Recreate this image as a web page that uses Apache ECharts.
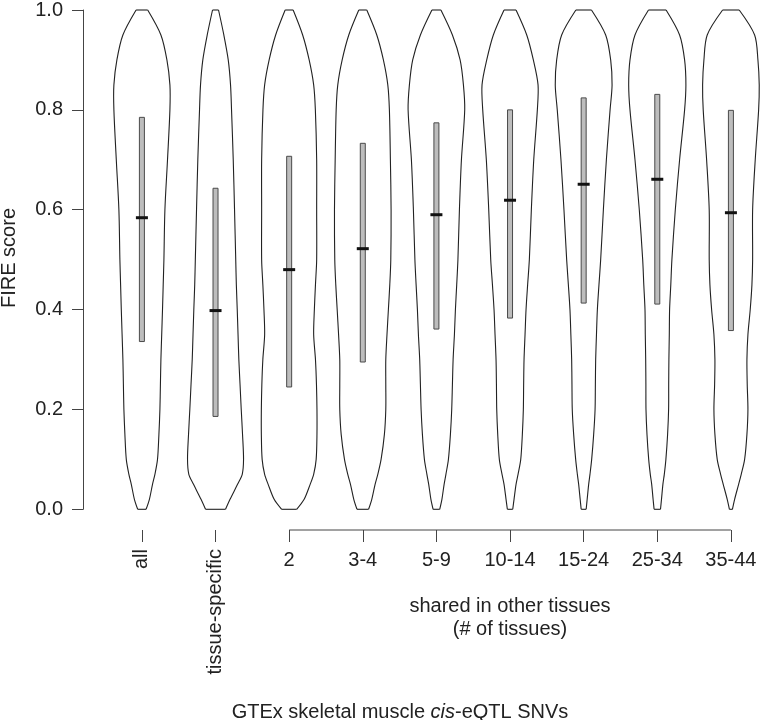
<!DOCTYPE html>
<html><head><meta charset="utf-8">
<script src="https://cdn.jsdelivr.net/npm/echarts@6/dist/echarts.min.js"></script>
<style>html,body{margin:0;padding:0;background:#fff}#c{width:760px;height:720px}</style>
</head><body><div id="c"></div>
<script>
const categories = ['all', 'tissue-specific', '2', '3-4', '5-9', '10-14', '15-24', '25-34', '35-44'];
const positions = [1, 2, 3, 4, 5, 6, 7, 8, 9];
const sharedGroup = [3, 9];
const yTicks = [0, 0.2, 0.4, 0.6, 0.8, 1.0];

// FIRE score levels at which the violin half-widths (relative density) were read
const levels = [0, 0.02, 0.05, 0.07, 0.1, 0.15, 0.2, 0.25, 0.3, 0.35, 0.4, 0.45, 0.5, 0.6, 0.7, 0.8, 0.85, 0.9, 0.95, 1.0];
const dens_all     = [4.2, 7.5, 10.6, 13, 15.6, 17, 18, 18.5, 19, 19.8, 20.6, 21.3, 22, 23, 25.6, 28, 28, 25, 19, 5.8];
const dens_tissue  = [10, 14.5, 22, 26.7, 28, 27, 25.7, 24.5, 23.3, 22.5, 21.7, 20.8, 20.2, 19, 17.7, 16, 15, 12.7, 8.3, 3];
const dens_2       = [7.5, 15, 21, 24.5, 27, 27.8, 27.8, 27.3, 26.3, 24.5, 25.2, 26.3, 27.5, 27.5, 27.5, 26.2, 24.5, 20, 13.5, 4];
const dens_3_4     = [5.8, 9, 12.3, 15, 18.3, 21.6, 23, 23, 23, 24.2, 25.6, 27, 28, 28.3, 27.6, 26.6, 25, 20.6, 14, 4];
const dens_5_9     = [3.3, 5.5, 7.7, 9.5, 12, 14, 15.3, 16, 16.7, 18, 19, 20.3, 21.5, 23, 25, 28.3, 27, 23.7, 16, 4.5];
const dens_10_14   = [2.7, 4, 6, 8, 10.7, 12.3, 13.3, 13.6, 14, 15, 16, 17.6, 19.3, 21.3, 23.7, 27.3, 28, 23.3, 16.7, 6];
const dens_15_24   = [2.5, 3.5, 5, 6.3, 8, 10, 11.4, 11.7, 12, 12.8, 13.7, 15.3, 17, 19.7, 22.7, 26.4, 28.4, 27, 22, 7.8];
const dens_25_34   = [3.2, 4.2, 5.6, 7, 8.6, 10.3, 11.3, 11.4, 11.6, 12, 12.3, 13.5, 14.6, 18, 22.3, 27.3, 28.6, 27.3, 22.3, 8.8];
const dens_35_44   = [1.5, 3.7, 7.7, 10.3, 13.7, 16, 17, 16.3, 16, 17, 19.3, 21, 21.7, 21.7, 24.3, 27.7, 28.3, 27, 23.7, 8.3];
const densities = [dens_all, dens_tissue, dens_2, dens_3_4, dens_5_9, dens_10_14, dens_15_24, dens_25_34, dens_35_44];

// interquartile range and median
const q1     = [0.336, 0.186, 0.245, 0.295, 0.361, 0.383, 0.413, 0.411, 0.358];
const median = [0.584, 0.398, 0.480, 0.522, 0.590, 0.619, 0.651, 0.661, 0.594];
const q3     = [0.785, 0.643, 0.707, 0.733, 0.774, 0.800, 0.824, 0.831, 0.799];

const densityToX = 1 / 73.6;
const FONT = "'Liberation Sans', Arial, Helvetica, sans-serif";
const FS = 20;
const AXIS_COLOR = '#444';
const XMIN = 0.2, XMAX = 9.38;
const AX_OFFSET = 20.7;

const chart = echarts.init(document.getElementById('c'), null, {renderer: 'canvas'});

const violinData = positions.map((p, i) => [p, q1[i], median[i], q3[i], i]);

function renderViolin(params, api) {
  const x = api.value(0);
  const idx = api.value(4);
  const d = densities[idx];
  const right = [], left = [];
  for (let k = 0; k < levels.length; k++) right.push(api.coord([x + d[k] * densityToX, levels[k]]));
  for (let k = levels.length - 1; k >= 0; k--) left.push(api.coord([x - d[k] * densityToX, levels[k]]));
  const pQ1 = api.coord([x, api.value(1)]);
  const pMed = api.coord([x, api.value(2)]);
  const pQ3 = api.coord([x, api.value(3)]);
  const outline = {fill: null, stroke: '#222', lineWidth: 1.1};
  return {
    type: 'group',
    children: [
      {type: 'polyline', shape: {points: right, smooth: 0.3}, style: outline},
      {type: 'polyline', shape: {points: left, smooth: 0.3}, style: outline},
      {type: 'line', shape: {x1: right[right.length - 1][0], y1: right[right.length - 1][1], x2: left[0][0], y2: left[0][1]}, style: outline},
      {type: 'line', shape: {x1: right[0][0], y1: right[0][1], x2: left[left.length - 1][0], y2: left[left.length - 1][1]}, style: outline},
      {type: 'rect', shape: {x: pQ3[0] - 2.5, y: pQ3[1], width: 5, height: pQ1[1] - pQ3[1]},
        style: {fill: '#bdbdbd', stroke: '#4a4a4a', lineWidth: 1}},
      {type: 'line', shape: {x1: pMed[0] - 6, y1: pMed[1], x2: pMed[0] + 6, y2: pMed[1]},
        style: {stroke: '#111', lineWidth: 3}}
    ]
  };
}

function renderBracket(params, api) {
  const a = api.coord([api.value(0), 0]);
  const b = api.coord([api.value(1), 0]);
  const y = a[1] + AX_OFFSET;
  return {type: 'line', shape: {x1: a[0], y1: y, x2: b[0], y2: y}, style: {stroke: AXIS_COLOR, lineWidth: 1}};
}

const baseX = {type: 'value', min: XMIN, max: XMAX, splitLine: {show: false}};

chart.setOption({
  animation: false,
  backgroundColor: '#fff',
  grid: {left: 83, top: 8.3, right: 1.1, bottom: 210.7},
  xAxis: [
    Object.assign({}, baseX, {show: false}),
    Object.assign({}, baseX, {
      position: 'bottom', offset: AX_OFFSET,
      axisLine: {show: false},
      axisTick: {show: true, customValues: positions, length: 12, lineStyle: {color: AXIS_COLOR, width: 1}},
      axisLabel: {customValues: [1, 2], rotate: 90, margin: 19, formatter: v => categories[Math.round(v) - 1],
        fontFamily: FONT, fontSize: FS, color: '#222'}
    }),
    Object.assign({}, baseX, {
      position: 'bottom', offset: AX_OFFSET,
      axisLine: {show: false},
      axisTick: {show: false},
      axisLabel: {customValues: positions.slice(2), margin: 20, formatter: v => categories[Math.round(v) - 1],
        fontFamily: FONT, fontSize: FS, color: '#222'}
    })
  ],
  yAxis: {
    type: 'value', min: 0, max: 1, interval: 0.2,
    splitLine: {show: false},
    axisLine: {show: true, lineStyle: {color: AXIS_COLOR, width: 1}},
    axisTick: {show: true, length: 11, lineStyle: {color: AXIS_COLOR, width: 1}},
    axisLabel: {margin: 20, formatter: v => v.toFixed(1), fontFamily: FONT, fontSize: FS, color: '#222'}
  },
  graphic: [
    {type: 'text', x: 9, y: 258, rotation: Math.PI / 2,
      style: {text: 'FIRE score', fontFamily: FONT, fontSize: FS, fill: '#222', align: 'center', verticalAlign: 'middle'}},
    {type: 'text', x: 510, y: 618,
      style: {text: 'shared in other tissues\n(# of tissues)', fontFamily: FONT, fontSize: FS, lineHeight: 22.5,
        fill: '#222', align: 'center', verticalAlign: 'middle'}},
    {type: 'text', x: 400, y: 712,
      style: {text: '{n|GTEx skeletal muscle }{i|cis}{n|-eQTL SNVs}', align: 'center', verticalAlign: 'middle',
        rich: {n: {fontFamily: FONT, fontSize: FS, fill: '#222'}, i: {fontFamily: FONT, fontSize: FS, fontStyle: 'italic', fill: '#222'}}}}
  ],
  series: [
    {type: 'custom', xAxisIndex: 0, renderItem: renderViolin, data: violinData, clip: false, silent: true},
    {type: 'custom', xAxisIndex: 0, renderItem: renderBracket, data: [sharedGroup], clip: false, silent: true}
  ]
});
</script></body></html>
